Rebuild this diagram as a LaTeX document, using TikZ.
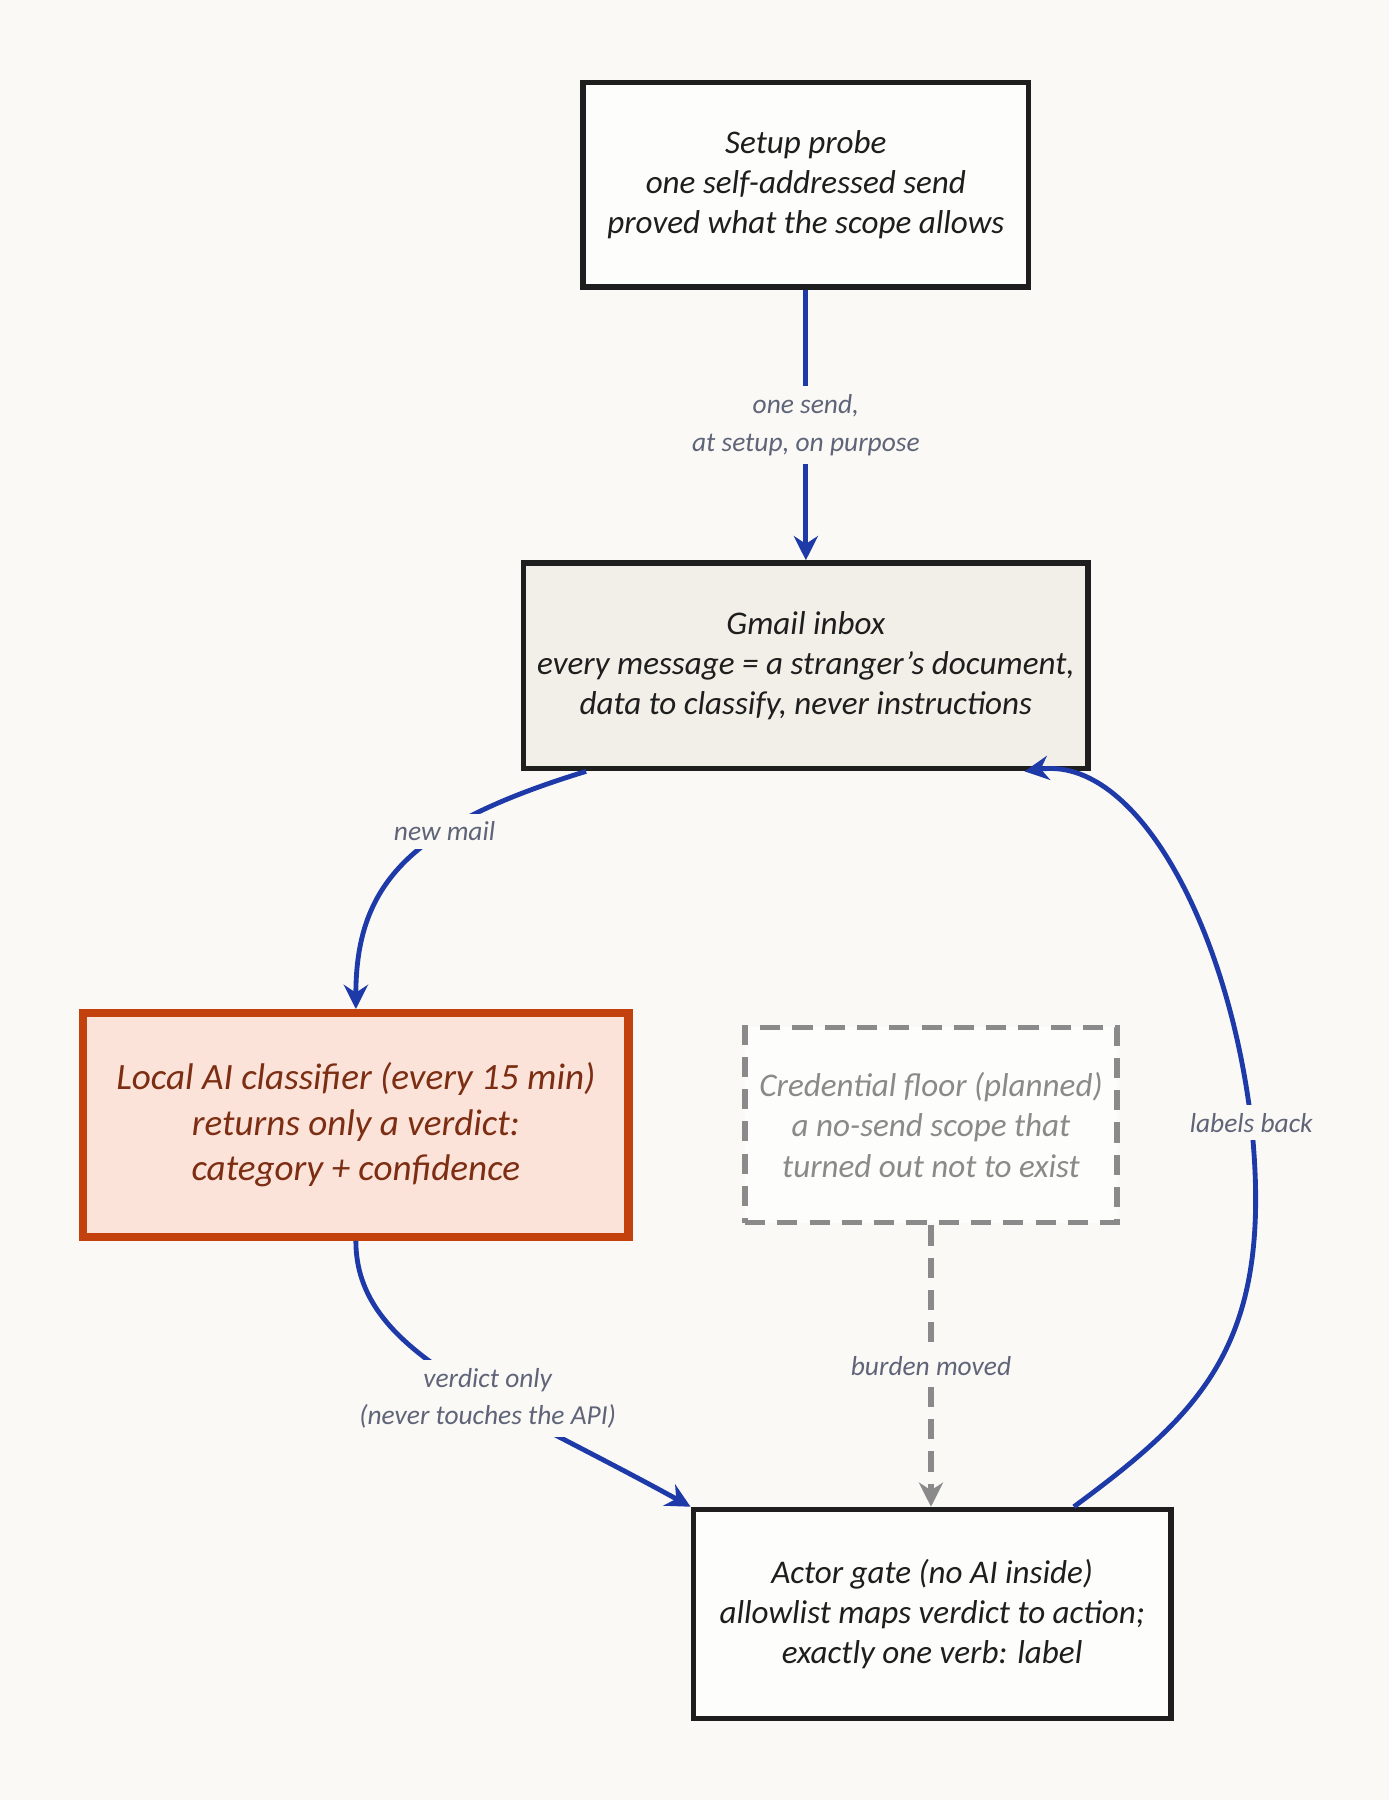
\documentclass[tikz,border=0pt]{standalone}
\usepackage{fontspec}
\setmainfont{Carlito}
\usetikzlibrary{arrows.meta,positioning,calc}
\definecolor{paper}{HTML}{FAF9F5}
\definecolor{ink}{HTML}{1E1E1E}
\definecolor{flow}{HTML}{1E3AA8}
\definecolor{inbox}{HTML}{F1EFE8}
\definecolor{rust}{HTML}{C2410C}
\definecolor{rustfill}{HTML}{FBE3DA}
\definecolor{rusttext}{HTML}{7C2D12}
\definecolor{faint}{HTML}{8A8A8A}
\definecolor{note}{HTML}{5F6478}
\begin{document}
\begin{tikzpicture}
	[
	> = {Stealth[length=6pt,width=6pt]},
	box/.style = {draw=ink,line width=1.4pt,fill=white!60!paper,align=center,inner sep=0pt,font=\fontsize{8.2}{10}\selectfont\itshape,text=ink},
	flowline/.style = {->,draw=flow,line width=1.2pt},
	lbl/.style = {font=\fontsize{6.8}{9.3}\selectfont\itshape,text=note,fill=paper,align=center,inner sep=2pt}
	]
	\fill[paper] (0,0) rectangle (12.1,15.68);
	\useasboundingbox (0,0) rectangle (12.1,15.68);
	\node[box, minimum width=3.88cm, minimum height=1.78cm] (setup) at (7.02,14.07) {Setup probe\\one self-addressed send\\proved what the scope allows};
	\node[box, fill=inbox, minimum width=4.92cm, minimum height=1.79cm] (gmail) at (7.02,9.88) {Gmail inbox\\every message = a stranger’s document,\\data to classify, never instructions};
	\node[box, draw=rust, fill=rustfill, text=rusttext, line width=2pt, minimum width=4.75cm, minimum height=1.95cm, font=\fontsize{9.2}{11.3}\selectfont\itshape] (classifier) at (3.10,5.88) {Local AI classifier (every 15 min)\\returns only a verdict:\\category + confidence};
	\node[box, draw=faint, text=faint, dashed, dash pattern=on 5pt off 3pt, minimum width=3.24cm, minimum height=1.70cm] (floor) at (8.11,5.88) {Credential floor (planned)\\a no-send scope that\\turned out not to exist};
	\node[box, minimum width=4.16cm, minimum height=1.82cm] (actor) at (8.12,1.62) {Actor gate (no AI inside)\\allowlist maps verdict to action;\\exactly one verb: label};
	\coordinate (g1) at ($(gmail.south west)+(0.57,0)$);
	\coordinate (a1) at ($(actor.north east)+(-0.87,0)$);
	\coordinate (g2) at ($(gmail.south east)+(-0.58,0)$);
	\draw[flowline] (setup) -- node[lbl] {one send,\\at setup, on purpose} (gmail);
	\draw[flowline] (g1) .. controls (3.6,8.5) and (3.1,8.0) .. node[lbl, pos=0.35] {new mail} (classifier.north);
	\draw[flowline] (classifier.south) .. controls (3.1,3.9) and (4.3,3.5) .. node[lbl, pos=0.6] {verdict only\\(never touches the API)} (actor.north west);
	\draw[->, draw=faint, line width=1.3pt, dashed, dash pattern=on 5pt off 3pt] (floor) -- node[lbl] {burden moved} (actor.north -| floor);
	\draw[flowline] (a1) .. controls (10.5,3.4) and (11.1,4.0) .. (10.9,5.9) node[lbl, pos=1] {labels back} .. controls (10.7,7.6) and (9.9,9.1) .. (g2);
\end{tikzpicture}
\end{document}
